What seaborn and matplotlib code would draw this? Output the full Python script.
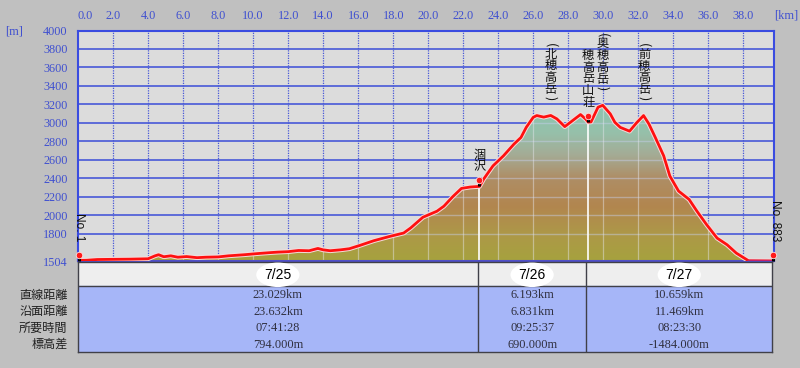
import numpy as np
import pandas as pd
import matplotlib
matplotlib.use("Agg")
import matplotlib.pyplot as plt
import matplotlib.patheffects as pe
from matplotlib.colors import LinearSegmentedColormap
import seaborn as sns

# ---------------- data ----------------
dist_km = [0.0, 0.5, 1.1, 2.0, 3.0, 4.0, 4.4, 4.6, 4.9, 5.3, 5.7, 6.2, 6.8, 7.3, 8.0,
           8.6, 9.5, 10.3, 11.0, 11.4, 12.0, 12.6, 13.2, 13.7, 14.0, 14.4, 15.0, 15.5,
           16.1, 16.9, 17.8, 18.6, 19.0, 19.7, 20.5, 20.9, 21.4, 21.9, 22.4, 22.93,
           23.16, 23.7, 24.3, 24.9, 25.3, 25.6, 26.0, 26.2, 26.6, 27.0, 27.35, 27.8,
           28.3, 28.7, 29.0, 29.14, 29.3, 29.7, 29.97, 30.4, 30.66, 30.97, 31.5, 31.9,
           32.3, 32.6, 32.97, 33.45, 33.8, 34.3, 34.9, 35.35, 35.9, 36.5, 37.07, 37.6,
           38.3, 39.7]
elev_m = [1510, 1512, 1520, 1522, 1524, 1528, 1560, 1572, 1550, 1560, 1545, 1552, 1540,
          1545, 1548, 1560, 1572, 1585, 1595, 1600, 1605, 1618, 1615, 1640, 1625, 1615,
          1625, 1637, 1673, 1724, 1770, 1807, 1862, 1978, 2043, 2098, 2200, 2290, 2305,
          2312, 2389, 2534, 2643, 2770, 2842, 2951, 3060, 3079, 3062, 3080, 3043, 2959,
          3032, 3090, 3040, 3008, 3010, 3169, 3190, 3097, 3006, 2951, 2910, 3000, 3079,
          2990, 2842, 2643, 2425, 2261, 2171, 2043, 1898, 1752, 1680, 1589, 1506, 1504]

x_ticks = [0, 2, 4, 6, 8, 10, 12, 14, 16, 18, 20, 22, 24, 26, 28, 30, 32, 34, 36, 38]
y_ticks = [1504, 1800, 2000, 2200, 2400, 2600, 2800, 3000, 3200, 3400, 3600, 3800, 4000]

waypoint_names = ["No. 1", "涸沢", "穂高岳山荘", "No. 883"]
waypoint_km = [0.05, 22.93, 29.14, 39.70]
waypoint_elev = [1504, 2312, 3008, 1504]

peak_names = ["北穂高岳", "奥穂高岳", "前穂高岳"]
peak_km = [27.0, 29.97, 32.34]
peak_elev = [3080, 3190, 3079]

days = ["7/25", "7/26", "7/27"]
row_labels = ["直線距離", "沿面距離", "所要時間", "標高差"]
straight_dist = ["23.029km", "6.193km", "10.659km"]
surface_dist = ["23.632km", "6.831km", "11.469km"]
duration = ["07:41:28", "09:25:37", "08:23:30"]
elev_diff = ["794.000m", "690.000m", "-1484.000m"]

X_MAX = 39.75
Y_MIN, Y_MAX = 1504, 4000

# ---------------- style ----------------
sns.set_theme(style="white")
plt.rcParams["font.family"] = ["Liberation Serif", "Noto Sans CJK JP", "DejaVu Sans"]
JP = ["Noto Sans CJK JP", "DejaVu Sans"]
BLUE_TXT = "#4050d0"
GRID_BLUE = "#4858d8"

df = pd.DataFrame({"km": dist_km, "elev": elev_m})

fig = plt.figure(figsize=(8.0, 3.68), dpi=100, facecolor="#c0c0c0")
ax = fig.add_axes([78 / 800, 1 - 261 / 368, 696 / 800, 230.5 / 368])
ax.set_facecolor("#dcdcdc")

# gradient fill under profile
fb = ax.fill_between(df["km"], df["elev"], Y_MIN, facecolor="none", edgecolor="none")
clip = fb.get_paths()[0]
cmap = LinearSegmentedColormap.from_list(
    "terrain_grad",
    [(0.0, "#a6a23e"), (0.17, "#ad9848"), (0.35, "#b2864f"), (0.53, "#ae8e66"),
     (0.68, "#a4ac96"), (0.82, "#96c0aa"), (1.0, "#8cc4b0")])
grad = np.linspace(0, 1, 256).reshape(-1, 1)
im = ax.imshow(grad, extent=[0, X_MAX, Y_MIN, 3200], origin="lower", aspect="auto",
               cmap=cmap, zorder=1, interpolation="bilinear")
im.set_clip_path(clip, transform=ax.transData)

# grid
grid_y = [t for t in y_ticks if t not in (Y_MIN, Y_MAX)]
grid_x = [t for t in x_ticks if t > 0]
ax.hlines(grid_y, 0, X_MAX, colors=GRID_BLUE, lw=1.2, zorder=0.5)
ax.vlines(grid_x, Y_MIN, Y_MAX, colors=GRID_BLUE, lw=0.9, linestyles=(0, (1, 1)), zorder=0.5)
h2 = ax.hlines(grid_y, 0, X_MAX, colors="#c8d0f0", lw=1.0, zorder=1.5, alpha=0.45)
h2.set_clip_path(clip, transform=ax.transData)
v2 = ax.vlines(grid_x, Y_MIN, Y_MAX, colors="#e8e8f0", lw=0.9, zorder=1.5, alpha=0.45)
v2.set_clip_path(clip, transform=ax.transData)

# white lines under the day-boundary huts
for k, e in zip(waypoint_km[1:3], waypoint_elev[1:3]):
    ax.vlines(k, Y_MIN, e, colors="white", lw=1.2, zorder=2)

# profile line
sns.lineplot(data=df, x="km", y="elev", ax=ax, color="#ff1010", lw=2.0, sort=False,
             estimator=None, zorder=3,
             path_effects=[pe.Stroke(linewidth=3.4, foreground="#f4dcdc"), pe.Normal()])
tail = df[df["km"] >= 38.3]
sns.lineplot(data=tail, x="km", y="elev", ax=ax, color="#c8206a", lw=1.6, sort=False,
             estimator=None, zorder=3.2)

# markers (pins)
for k, e in zip(waypoint_km, waypoint_elev):
    ax.vlines(k, e, e + 62, colors="black", lw=2.2, zorder=4, clip_on=False)
    ax.scatter([k], [e + 66], s=22, color="#ff1a1a", edgecolor="#ffe0e0", lw=0.6,
               zorder=5, clip_on=False)


def vertical(ax, s, xy, offset, size=8.8):
    t = ax.annotate("\n".join(s), xy=xy, xytext=(0, offset), textcoords="offset points",
                    ha="center", va="bottom", family=JP, fontsize=size, linespacing=0.88,
                    color="#101010", zorder=6)
    return t


# peak labels with rotated parentheses
for name, k, e in zip(peak_names, peak_km, peak_elev):
    t = vertical(ax, name, (k, e), 14)
    ax.annotate("(", xy=(0.5, 1.0), xycoords=t, ha="center", va="bottom", rotation=-90,
                fontsize=9, family=JP, color="#101010")
    ax.annotate(")", xy=(0.5, 0.0), xycoords=t, ha="center", va="top", rotation=-90,
                fontsize=9, family=JP, color="#101010")

# hut labels
for name, k, e in zip(waypoint_names[1:3], waypoint_km[1:3], waypoint_elev[1:3]):
    vertical(ax, name, (k, e + 66), 5)

# start / end labels
ax.annotate(waypoint_names[0], xy=(waypoint_km[0], waypoint_elev[0]), xytext=(0, 14),
            textcoords="offset points", rotation=-90, ha="center", va="bottom",
            family=["Liberation Sans"], fontsize=8.5, color="#101010", annotation_clip=False)
ax.annotate(waypoint_names[3], xy=(waypoint_km[3], waypoint_elev[3]), xytext=(1.5, 14),
            textcoords="offset points", rotation=-90, ha="center", va="bottom",
            family=["Liberation Sans"], fontsize=8.5, color="#101010", annotation_clip=False)

# axes, ticks
ax.set_xlim(0, X_MAX)
ax.set_ylim(Y_MIN, Y_MAX)
ax.xaxis.tick_top()
ax.set_xticks(x_ticks)
ax.set_xticklabels([f"{v:.1f}" for v in x_ticks])
ax.set_yticks(y_ticks)
ax.set_yticklabels([str(v) for v in y_ticks])
ax.tick_params(axis="x", length=0, pad=6, labelsize=8.8, labelcolor=BLUE_TXT)
ax.tick_params(axis="y", length=0, pad=7.5, labelsize=8.8, labelcolor=BLUE_TXT)
ax.get_xticklabels()[0].set_horizontalalignment("left")
ax.set_xlabel("")
ax.set_ylabel("")
for sp in ax.spines.values():
    sp.set_color("#3a4ce0")
    sp.set_linewidth(1.5)
    sp.set_visible(True)
ax.spines["bottom"].set_color("#5050c8")

fig.text(14 / 800, 1 - 32 / 368, "[m]", color=BLUE_TXT, fontsize=8.8, ha="center", va="center")
fig.text(786 / 800, 1 - 16 / 368, "[km]", color=BLUE_TXT, fontsize=8.8, ha="center", va="center")

# ---------------- table ----------------
axt = fig.add_axes([78 / 800, 1 - 352 / 368, 694 / 800, 90 / 368])
HEAD = 1.45
NROW = len(row_labels)
axt.set_xlim(0, X_MAX * 694 / 696)
axt.set_ylim(HEAD + NROW, 0)
axt.axhspan(0, HEAD, color="#eeeeee", zorder=0)
axt.axhspan(HEAD, HEAD + NROW, color="#a6b6f8", zorder=0)
bounds = [0, waypoint_km[1] - 0.1, waypoint_km[2] - 0.1, X_MAX * 694 / 696]
axt.vlines(bounds[1:-1], 0, HEAD + NROW, colors="#404048", lw=1.0)
axt.hlines(HEAD, 0, bounds[-1], colors="#404048", lw=1.0)
axt.set_xticks([])
axt.set_yticks([])
for sp in axt.spines.values():
    sp.set_color("#404048")
    sp.set_linewidth(1.0)

rows = [straight_dist, surface_dist, duration, elev_diff]
for i, d in enumerate(days):
    cx = (bounds[i] + bounds[i + 1]) / 2
    axt.text(cx, HEAD / 2 + 0.05, d, ha="center", va="center", family=["Liberation Sans"],
             fontsize=10, color="black",
             bbox=dict(boxstyle="ellipse,pad=0.12", fc="white", ec="none"))
    for r, vals in enumerate(rows):
        axt.text(cx, HEAD + r + 0.55, vals[i], ha="center", va="center", fontsize=8.9,
                 color="#303040")
for r, lab in enumerate(row_labels):
    axt.annotate(lab, xy=(0, HEAD + r + 0.55), xycoords=("axes fraction", "data"),
                 xytext=(-7.5, 0), textcoords="offset points", ha="right", va="center",
                 family=JP, fontsize=8.7, color="#202020")

fig.savefig("out.png", dpi=100, facecolor=fig.get_facecolor())
